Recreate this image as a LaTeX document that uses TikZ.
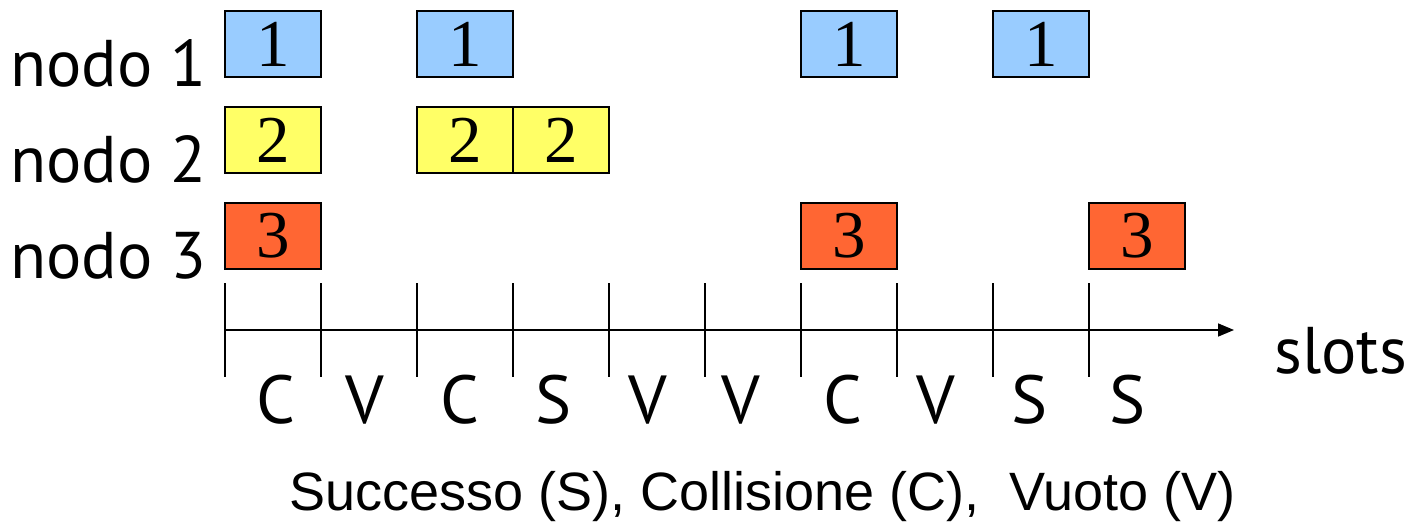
\documentclass[tikz,border=0pt]{standalone}
\usepackage{fontspec}
\setmainfont{Liberation Serif}
\newfontfamily\labelfont{PT Sans}
\newfontfamily\notefont{Liberation Sans}
\usetikzlibrary{arrows.meta}

\definecolor{pktblue}{HTML}{99CCFF}
\definecolor{pktyellow}{HTML}{FFFF66}
\definecolor{pktorange}{HTML}{FF6633}

\tikzset{
    pkt/.style={draw=black, line width=1.6pt, minimum width=96pt, minimum height=66pt,
                inner sep=0pt, font=\fontsize{67}{70}\selectfont},
    pkt1/.style={pkt, fill=pktblue},
    pkt2/.style={pkt, fill=pktyellow},
    pkt3/.style={pkt, fill=pktorange},
    lbl/.style={inner sep=0pt, font=\labelfont\fontsize{66}{70}\selectfont},
}

\begin{document}
\begin{tikzpicture}[x=1pt, y=-1pt]
\useasboundingbox (0,0) rectangle (1408,522);
%\draw[help lines] (0,0) rectangle (1408,522);
\begin{scope}
    % row labels
    \node[lbl, anchor=base west] (R1) at (10,86) {nodo 1};
    \node[lbl, anchor=base west] (R2) at (10,182) {nodo 2};
    \node[lbl, anchor=base west] (R3) at (10,278) {nodo 3};

    % packets
    \node[pkt1] (A) at (273,44) {1};
    \node[pkt1] (B) at (465,44) {1};
    \node[pkt1] (C) at (849,44) {1};
    \node[pkt1] (D) at (1041,44) {1};

    \node[pkt2] (E) at (273,140) {2};
    \node[pkt2] (F) at (465,140) {2};
    \node[pkt2] (G) at (561,140) {2};

    \node[pkt3] (H) at (273,236) {3};
    \node[pkt3] (I) at (849,236) {3};
    \node[pkt3] (J) at (1137,236) {3};

    % slot outcomes
    \node[lbl, anchor=base, font=\labelfont\fontsize{68}{70}\selectfont] (s0) at (276,423) {C};
    \node[lbl, anchor=base, font=\labelfont\fontsize{68}{70}\selectfont] (s1) at (365,423) {V};
    \node[lbl, anchor=base, font=\labelfont\fontsize{68}{70}\selectfont] (s2) at (460,423) {C};
    \node[lbl, anchor=base, font=\labelfont\fontsize{68}{70}\selectfont] (s3) at (554,423) {S};
    \node[lbl, anchor=base, font=\labelfont\fontsize{68}{70}\selectfont] (s4) at (648,423) {V};
    \node[lbl, anchor=base, font=\labelfont\fontsize{68}{70}\selectfont] (s5) at (741,423) {V};
    \node[lbl, anchor=base, font=\labelfont\fontsize{68}{70}\selectfont] (s6) at (843,423) {C};
    \node[lbl, anchor=base, font=\labelfont\fontsize{68}{70}\selectfont] (s7) at (936,423) {V};
    \node[lbl, anchor=base, font=\labelfont\fontsize{68}{70}\selectfont] (s8) at (1030,423) {S};
    \node[lbl, anchor=base, font=\labelfont\fontsize{68}{70}\selectfont] (s9) at (1128,423) {S};

    \node[lbl, anchor=base west] (slots) at (1274,373) {slots};
    \node[inner sep=0pt, anchor=base west, font=\notefont\fontsize{54}{58}\selectfont]
        (legend) at (289,510) {Successo (S), Collisione (C),\ \ Vuoto (V)};

    % axis and slot boundaries
    \coordinate (ax0) at (225,330);
    \coordinate (ax1) at (1234,330);
    \foreach \i in {0,...,9} {
        \coordinate (t\i) at (225+96*\i,283);
        \coordinate (b\i) at (225+96*\i,377);
    }
\end{scope}

\begin{scope}[>={Triangle[length=16pt, width=13pt]},
              every edge/.style={draw=black, line width=1.6pt}]
    \path [->] (ax0) edge (ax1);
    \foreach \i in {0,...,9}
        \path [-] (t\i) edge (b\i);
\end{scope}
\end{tikzpicture}
\end{document}
